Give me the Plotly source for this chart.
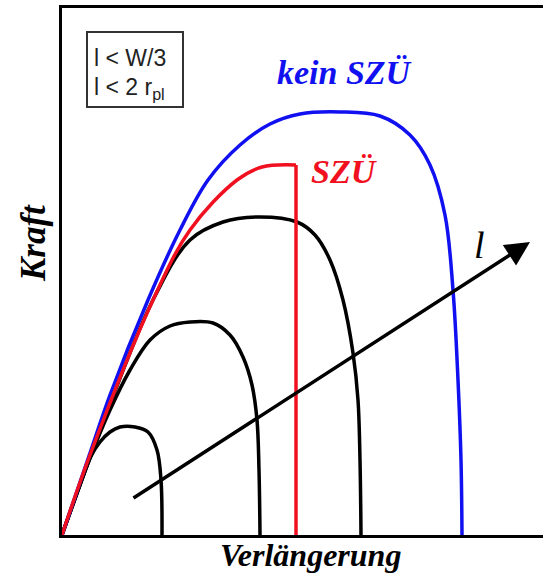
import plotly.graph_objects as go

# Force–elongation sketch (arbitrary units; origin at lower-left corner)
blue_x = [0, 28, 48, 86, 118, 146, 178, 208, 238, 278, 318, 348, 368, 383, 391, 396, 399, 400]
blue_y = [0, 82, 140, 235, 305, 355, 390, 411, 421, 423, 419, 400, 370, 320, 245, 155, 75, 0]

red_x = [0, 28, 91, 128, 175, 200, 234]
red_y = [0, 80, 235, 305, 355, 368, 370]
red_drop_x = [234, 234]
red_drop_y = [370, 0]

black1_x = [0, 28, 90, 128, 161, 198, 235, 253, 268, 281, 291, 296, 298, 299]
black1_y = [0, 77, 233, 295, 313, 318, 313, 300, 275, 235, 182, 135, 75, 0]

black2_x = [0, 28, 48, 68, 88, 108, 128, 151, 168, 181, 190, 195, 197, 198]
black2_y = [0, 77, 125, 165, 195, 209, 213, 212, 200, 178, 150, 115, 65, 0]

black3_x = [0, 18, 28, 38, 48, 58, 73, 86, 95, 99, 100]
black3_y = [0, 50, 77, 93, 103, 108, 108, 103, 85, 55, 0]

arrow_start = (70, 36)
arrow_end = (468, 293)

fig = go.Figure()

def curve(x, y, color, shape="spline"):
    fig.add_trace(go.Scatter(
        x=x, y=y, mode="lines",
        line=dict(color=color, width=3.5, shape=shape, smoothing=1.0),
        hoverinfo="skip", showlegend=False,
    ))

curve(black3_x, black3_y, "black")
curve(black2_x, black2_y, "black")
curve(black1_x, black1_y, "black")
curve(blue_x, blue_y, "#1010f0")
curve(red_x, red_y, "#f01020")
curve(red_drop_x, red_drop_y, "#f01020", shape="linear")

serif = "Liberation Serif, Times New Roman, serif"
sans = "Liberation Sans, Arial, sans-serif"

annotations = [
    # increasing ligament length
    dict(x=arrow_end[0], y=arrow_end[1], ax=arrow_start[0], ay=arrow_start[1],
         xref="x", yref="y", axref="x", ayref="y", text="", showarrow=True,
         arrowhead=2, arrowsize=1.4, arrowwidth=3.5, arrowcolor="black", standoff=0),
    dict(x=417, y=290, xref="x", yref="y", text="<i>l</i>", showarrow=False,
         font=dict(family=serif, size=38, color="black")),
    dict(x=283, y=463, xref="x", yref="y", text="<b><i>kein SZÜ</i></b>",
         showarrow=False, font=dict(family=serif, size=34, color="#1010f0")),
    dict(x=282, y=364, xref="x", yref="y", text="<b><i>SZÜ</i></b>",
         showarrow=False, font=dict(family=serif, size=34, color="#f01020")),
    dict(x=30, y=477, xref="x", yref="y", text="l < W/3", xanchor="left",
         showarrow=False, font=dict(family=sans, size=23, color="#222")),
    dict(x=30, y=447, xref="x", yref="y", text="l < 2 r<sub>pl</sub>", xanchor="left",
         showarrow=False, font=dict(family=sans, size=23, color="#222")),
    dict(x=(310 - 62) / 481, y=(535 - 555) / 527, xref="paper", yref="paper",
         xanchor="center", yanchor="middle",
         text="<b><i>Verlängerung</i></b>", showarrow=False,
         font=dict(family=serif, size=32, color="black")),
    dict(x=(33 - 62) / 481, y=(535 - 243) / 527, xref="paper", yref="paper",
         xanchor="center", yanchor="middle",
         text="<b><i>Kraft</i></b>", textangle=-90, showarrow=False,
         font=dict(family=serif, size=35, color="black")),
]

fig.update_layout(
    width=543, height=575,
    margin=dict(l=62, r=0, t=8, b=40),
    paper_bgcolor="white", plot_bgcolor="white",
    showlegend=False,
    annotations=annotations,
    shapes=[dict(type="rect", xref="x", yref="y", x0=25, x1=121, y0=428, y1=503,
                 line=dict(color="#333", width=2))],
    xaxis=dict(range=[0, 481], showgrid=False, zeroline=False, showticklabels=False,
               ticks="", showline=True, mirror=True, linecolor="black", linewidth=3),
    yaxis=dict(range=[0, 527], showgrid=False, zeroline=False, showticklabels=False,
               ticks="", showline=True, linecolor="black", linewidth=3),
)

fig.write_html("out.html")
